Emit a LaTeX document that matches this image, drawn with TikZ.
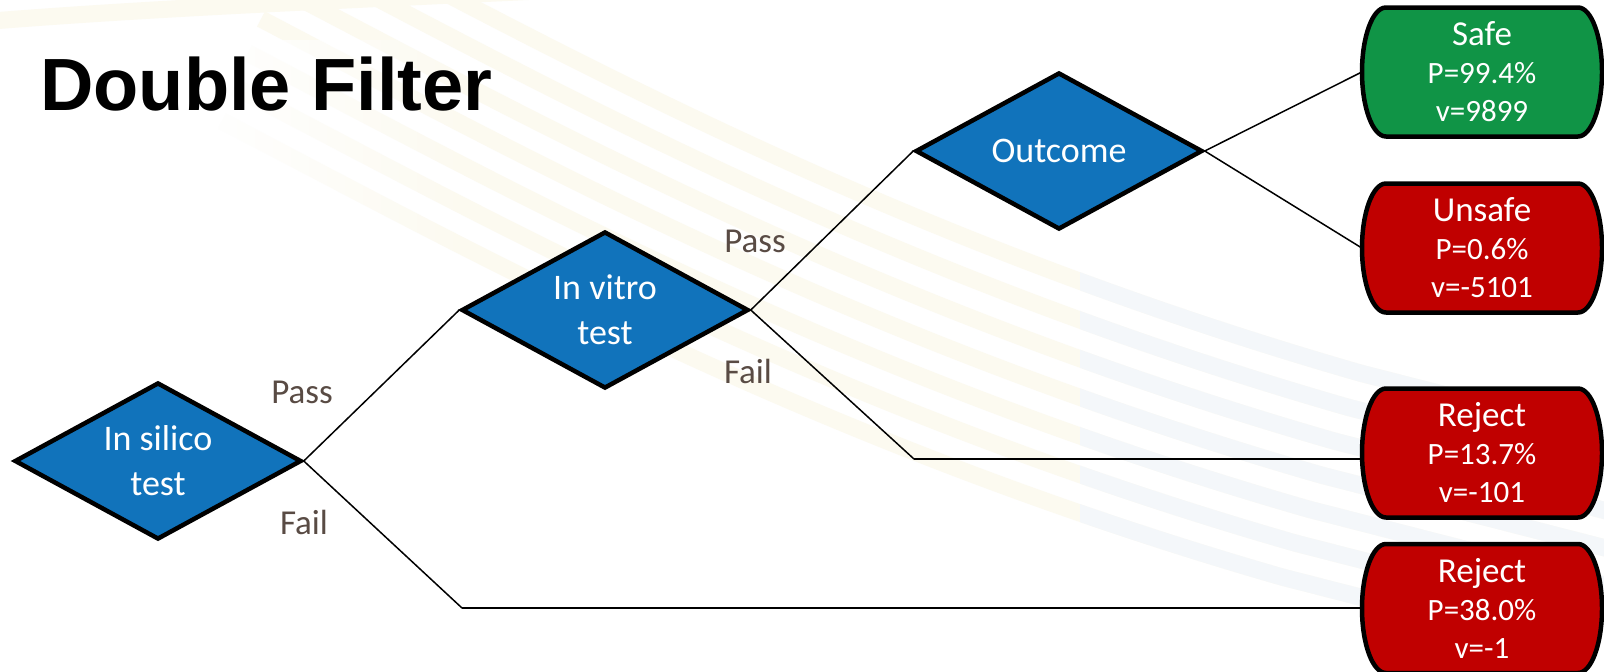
\documentclass[tikz,border=0pt]{standalone}
\usepackage{fontspec}
\setmainfont{Carlito}
\newfontfamily\titlefont{Liberation Sans}
\usetikzlibrary{shapes.geometric,calc,fadings}
\definecolor{diablue}{RGB}{17,115,187}
\definecolor{safegreen}{RGB}{16,148,70}
\definecolor{rejred}{RGB}{192,0,0}
\definecolor{lblcol}{RGB}{89,75,68}
\definecolor{bandbeige}{RGB}{252,250,240}
\definecolor{bandblue}{RGB}{244,247,250}
\tikzfading[name=fadeleft, left color=transparent!0, right color=transparent!100]
\tikzset{
  decision/.style={diamond, draw=black, line width=4.5pt, fill=diablue,
    minimum width=287pt, minimum height=157pt, inner sep=0pt, aspect=1.8,
    text=white, align=center, font=\fontsize{36}{45}\selectfont},
  termshape/.style={draw=black, line width=4.5pt},
  termtext/.style={rectangle, minimum width=240pt, minimum height=129pt, inner sep=0pt,
    text=white, align=center, font=\fontsize{31}{38}\selectfont},
  conn/.style={draw=black, line width=1.5pt},
  branchlbl/.style={text=lblcol, font=\fontsize{35}{42}\selectfont, inner sep=0pt},
  band/.style={line width=17pt}
}
\newcommand\termbox[5]{%
  \path[termshape, fill=#4] (#2-96,#3-64.5) -- (#2+96,#3-64.5)
    arc[start angle=90, end angle=-90, x radius=24pt, y radius=64.5pt]
    -- (#2-96,#3+64.5)
    arc[start angle=270, end angle=90, x radius=24pt, y radius=64.5pt] -- cycle;
  \node[termtext] (#1) at (#2,#3) {#5};}
\newcommand\bandpath[1]{%
  \draw[band, #1] (300-13*\k,-83+34*\k) -- (420-13*\k,-20+34*\k)
    .. controls (640-13*\k,95+34*\k) and (950-13*\k,255+34*\k) .. (1360-13*\k,373+34*\k)
    -- (1660-13*\k,450+34*\k);}
\begin{document}
\begin{tikzpicture}[x=1pt,y=-1pt]
\useasboundingbox (0,0) rectangle (1604,672);
\fill[white] (0,0) rectangle (1604,672);
% faint background swooshes
\begin{scope}
\clip (0,0) rectangle (1604,672);
\draw[band, bandbeige] (-20,22) .. controls (150,8) and (350,0) .. (560,-10);
\foreach \k in {0,...,6}{\bandpath{bandbeige}}
\begin{scope}
\clip (1080,0) rectangle (1604,672);
\foreach \k in {0,...,6}{\bandpath{bandblue}}
\end{scope}
\fill[white, path fading=fadeleft] (200,40) rectangle (470,330);
\fill[white] (0,40) rectangle (200,330);
\end{scope}
% title
\node[anchor=base west, inner sep=0pt, font=\titlefont\bfseries\fontsize{74}{80}\selectfont] (title) at (40,110) {Double Filter};
% decision nodes
\node[decision] (silico) at (158,461) {In silico\\test};
\node[decision] (vitro) at (605,310) {In vitro\\test};
\node[decision] (outcome) at (1059,151) {Outcome};
% corner coordinates
\coordinate (c1) at (462,608);
\coordinate (c2) at (914,459);
% connectors
\draw[conn] (silico.east) -- (vitro.west);
\draw[conn] (silico.east) -- (c1);
\draw[conn] (vitro.east) -- (outcome.west);
\draw[conn] (vitro.east) -- (c2);
% terminals
\termbox{safe}{1482}{72}{safegreen}{{\fontsize{35}{38}\selectfont Safe}\\P=99.4\%\\v=9899}
\termbox{unsafe}{1482}{248}{rejred}{{\fontsize{35}{38}\selectfont Unsafe}\\P=0.6\%\\v=-5101}
\termbox{rej1}{1482}{453}{rejred}{{\fontsize{35}{38}\selectfont Reject}\\P=13.7\%\\v=-101}
\termbox{rej2}{1482}{608.5}{rejred}{{\fontsize{35}{38}\selectfont Reject}\\P=38.0\%\\v=-1}
\draw[conn] (outcome.east) -- (safe.west);
\draw[conn] (outcome.east) -- (unsafe.west);
\draw[conn] (c2) -- (c2 -| rej1.west);
\draw[conn] (c1) -- (c1 -| rej2.west);
% branch labels
\node[branchlbl] (p1) at (302,392) {Pass};
\node[branchlbl] (f1) at (304,522) {Fail};
\node[branchlbl] (p2) at (755,241) {Pass};
\node[branchlbl] (f2) at (748,371) {Fail};
\end{tikzpicture}
\end{document}
